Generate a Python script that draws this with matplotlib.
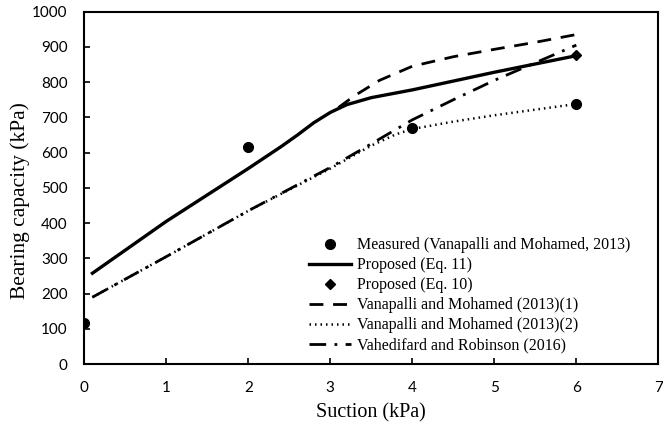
import matplotlib.pyplot as plt

# measured points
x_meas = [0, 2, 4, 6]
y_meas = [116, 617, 670, 738]

# proposed (Eq. 11)
x_eq11 = [0.1, 1, 2, 2.4, 2.6, 2.8, 3.0, 3.2, 3.5, 4, 5, 6]
y_eq11 = [258, 405, 555, 617, 650, 685, 714, 736, 756, 778, 828, 875]

# proposed (Eq. 10)
x_eq10 = [6]
y_eq10 = [876]

# Vanapalli and Mohamed (2013)(1)
x_vm1 = [3.1, 3.3, 3.6, 4, 4.5, 5, 5.5, 6]
y_vm1 = [728, 762, 805, 845, 872, 893, 913, 935]

# Vanapalli and Mohamed (2013)(2)
x_vm2 = [0.1, 1, 2, 3, 3.5, 3.8, 4, 4.5, 5, 5.5, 6]
y_vm2 = [190, 305, 435, 555, 620, 652, 667, 688, 706, 722, 738]

# Vahedifard and Robinson (2016)
x_vr = [0.1, 1, 2, 3, 3.5, 4, 4.5, 5, 5.5, 6]
y_vr = [190, 305, 435, 558, 625, 693, 750, 805, 855, 905]

serif = ['Liberation Serif', 'DejaVu Serif']
sans = ['Lato', 'DejaVu Sans']

fig = plt.figure(figsize=(6.63, 4.30), dpi=100)
ax = fig.add_axes([0.127, 0.153, 0.866, 0.82])

ax.plot(x_meas, y_meas, 'o', color='black', markersize=7,
        label='Measured (Vanapalli and Mohamed, 2013)', zorder=5)
ax.plot(x_eq11, y_eq11, '-', color='black', lw=2.4, label='Proposed (Eq. 11)')
ax.plot(x_eq10, y_eq10, 'D', color='black', markersize=5.5,
        label='Proposed (Eq. 10)', zorder=5)
ax.plot(x_vm1, y_vm1, color='black', lw=2, dashes=(5, 3.5),
        label='Vanapalli and Mohamed (2013)(1)')
ax.plot(x_vm2, y_vm2, color='black', lw=1.8, dashes=(0.6, 1.6),
        label='Vanapalli and Mohamed (2013)(2)')
ax.plot(x_vr, y_vr, color='black', lw=2, dashes=(6, 3, 1, 3),
        label='Vahedifard and Robinson (2016)')

ax.set_xlim(0, 7)
ax.set_ylim(0, 1000)
ax.set_xticks(range(0, 8))
ax.set_yticks(range(0, 1001, 100))
ax.tick_params(direction='in', length=4, width=1.2, pad=12)
for lab in ax.get_xticklabels() + ax.get_yticklabels():
    lab.set_family(sans)
    lab.set_fontsize(11)
for s in ax.spines.values():
    s.set_linewidth(1.5)

ax.set_xlabel('Suction (kPa)', family=serif, fontsize=14.5, labelpad=6)
ax.set_ylabel('Bearing capacity (kPa)', family=serif, fontsize=15.5)
ax.yaxis.set_label_coords(-0.095, 0.463)

ax.legend(loc='lower right', bbox_to_anchor=(0.977, -0.01), frameon=False,
          prop={'family': serif, 'size': 11.5}, handlelength=2.6,
          handletextpad=0.4, labelspacing=0.25)

fig.savefig('out.png', dpi=100)
